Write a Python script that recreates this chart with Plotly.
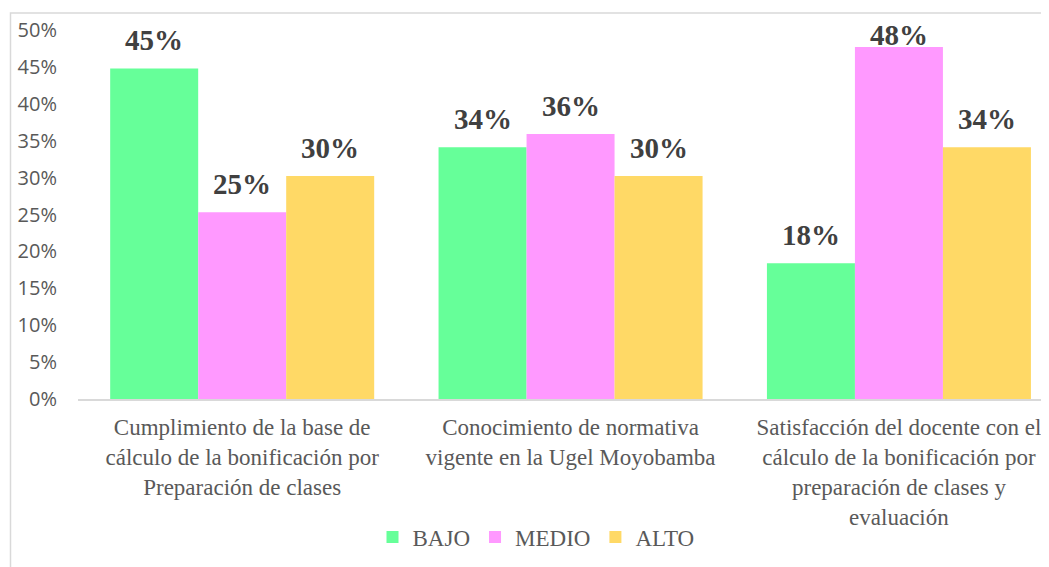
import plotly.graph_objects as go

categories = [
    "Cumplimiento de la base de<br>cálculo de la bonificación por<br>Preparación de clases",
    "Conocimiento de normativa<br>vigente en la Ugel Moyobamba",
    "Satisfacción del docente con el<br>cálculo de la bonificación por<br>preparación de clases y<br>evaluación",
]
bajo = [0.448, 0.341, 0.184]
medio = [0.253, 0.359, 0.477]
alto = [0.302, 0.302, 0.341]
series_names = ["BAJO", "MEDIO", "ALTO"]
series_colors = ["#66FF99", "#FF99FF", "#FFD966"]
y_ticks = [0, 0.05, 0.10, 0.15, 0.20, 0.25, 0.30, 0.35, 0.40, 0.45, 0.50]

# page body has an 8px margin, so the figure is offset by (8, 8)
OFF = 8
W, H = 1049 - OFF, 567 - OFF
ML, MR, MT, MB = 78 - OFF, 0, 30 - OFF, 168
pw = W - ML - MR
ph = H - MT - MB
BARGAP = 0.196
YMAX = 0.5
LABEL_SHIFT = 28
LABEL_MIN_CENTER = 35 - OFF  # labels are kept inside the chart frame

fig = go.Figure()
all_series = [bajo, medio, alto]
nser = len(all_series)
bw = (1 - BARGAP) / nser
annotations = []
for j, (name, vals, col) in enumerate(zip(series_names, all_series, series_colors)):
    xs = list(range(len(categories)))
    fig.add_trace(go.Bar(
        name=name, x=xs, y=vals,
        marker=dict(color=col, line=dict(width=0)),
    ))
    for i, v in enumerate(vals):
        bar_top_px = MT + ph * (1 - v / YMAX)
        shift = min(LABEL_SHIFT, bar_top_px - LABEL_MIN_CENTER)
        annotations.append(dict(
            x=i + (j - (nser - 1) / 2) * bw, y=v, xref="x", yref="y",
            text=f"{round(v * 100):d}%", showarrow=False,
            yanchor="middle", yshift=shift,
            font=dict(family="Liberation Serif", size=29, color="#404040", weight="bold"),
        ))

fig.update_layout(
    width=W, height=H,
    margin=dict(l=ML, r=MR, t=MT, b=MB, autoexpand=False),
    barmode="group", bargap=BARGAP, bargroupgap=0,
    plot_bgcolor="white", paper_bgcolor="white",
    showlegend=True,
    legend=dict(orientation="h", x=(536 - OFF - ML) / pw, xanchor="center",
                y=(MT + ph - (537 - OFF)) / ph, yanchor="middle",
                font=dict(family="Liberation Serif", size=23, color="#595959"),
                itemwidth=30, tracegroupgap=0),
    xaxis=dict(range=[-0.5, 2.457], tickmode="array",
               tickvals=list(range(len(categories))), ticktext=categories,
               showline=True, linecolor="#D9D9D9", linewidth=1.5,
               showgrid=False, ticks="", zeroline=False, automargin=False,
               tickfont=dict(family="Liberation Serif", size=23, color="#595959"),
               ticklabelstandoff=7),
    yaxis=dict(range=[0, YMAX], tickmode="array", tickvals=y_ticks,
               tickformat=".0%", showgrid=False, showline=False, zeroline=False,
               ticks="", ticklabelstandoff=20, automargin=False,
               tickfont=dict(family="Open Sans", size=20, color="#595959")),
    annotations=annotations,
    shapes=[dict(type="rect", xref="paper", yref="paper",
                 x0=(10.5 - OFF - ML) / pw, x1=1.2,
                 y0=-1.0, y1=1 + (MT - (13 - OFF)) / ph,
                 line=dict(color="#D9D9D9", width=1.5), layer="below")],
)

fig.write_html("out.html")
